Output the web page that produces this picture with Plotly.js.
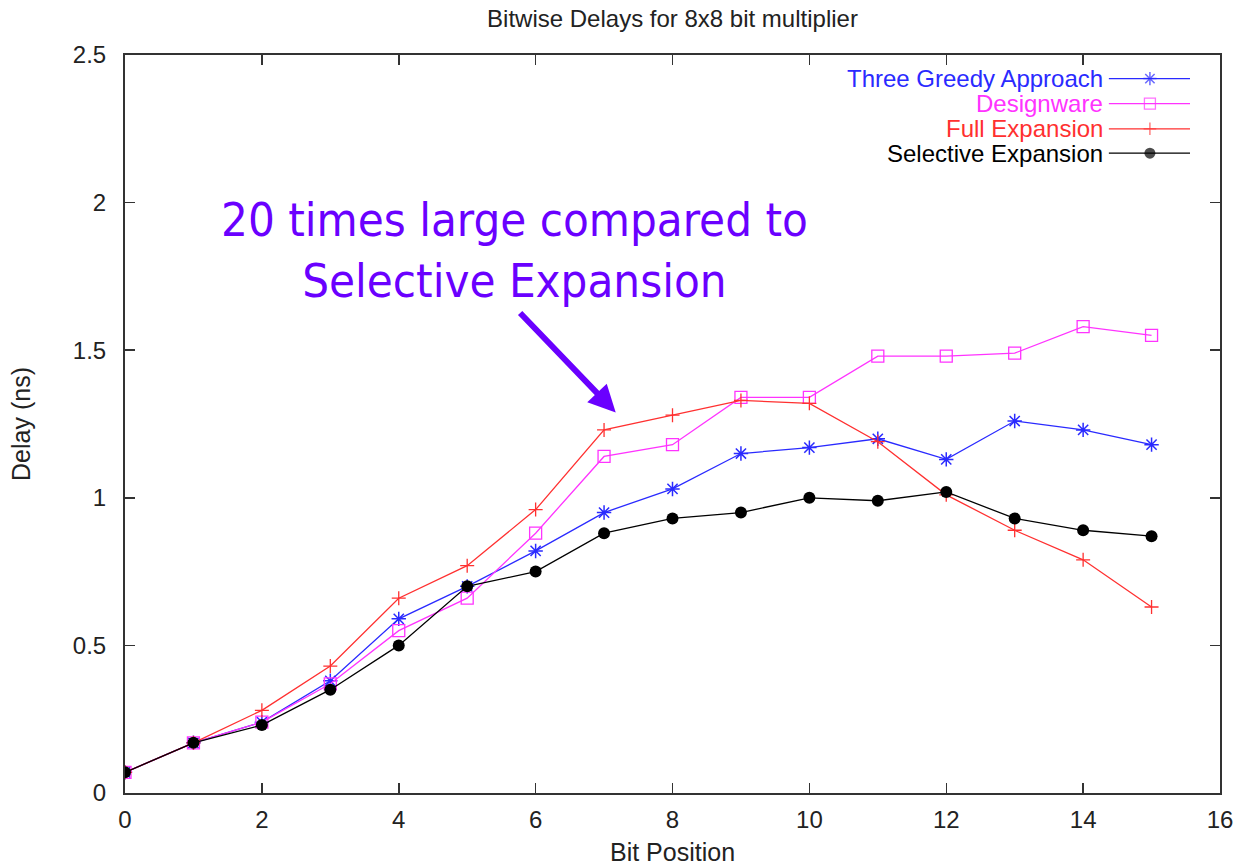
<!DOCTYPE html>
<html><head><meta charset="utf-8">
<script src="https://cdn.plot.ly/plotly-3.0.1.min.js"></script>
<style>html,body{margin:0;padding:0;background:#fff;}#chart{width:1240px;height:867px;}</style>
</head><body><div id="chart"></div>
<script>
const bitPosition = [0,1,2,3,4,5,6,7,8,9,10,11,12,13,14,15];
const threeGreedy = [0.07,0.17,0.24,0.38,0.59,0.70,0.82,0.95,1.03,1.15,1.17,1.20,1.13,1.26,1.23,1.18];
const designware  = [0.07,0.17,0.24,0.37,0.55,0.66,0.88,1.14,1.18,1.34,1.34,1.48,1.48,1.49,1.58,1.55];
const fullExpansion = [0.07,0.17,0.28,0.43,0.66,0.77,0.96,1.23,1.28,1.33,1.32,1.19,1.01,0.89,0.79,0.63];
const selectiveExpansion = [0.07,0.17,0.23,0.35,0.50,0.70,0.75,0.88,0.93,0.95,1.00,0.99,1.02,0.93,0.89,0.87];
const seriesNames = ["Three Greedy Approach","Designware","Full Expansion","Selective Expansion"];
const xTicks = [0,2,4,6,8,10,12,14,16];
const yTicks = [0,0.5,1,1.5,2,2.5];

const styles = [
  {color:"#2a2aff", symbol:"asterisk-open", size:12, mlw:1.5},
  {color:"#ff33ff", symbol:"square-open", size:12, mlw:1.3},
  {color:"#ff3030", symbol:"cross-thin-open", size:10, mlw:1.3},
  {color:"#000000", symbol:"circle", size:12, mlw:0}
];
const seriesData = [threeGreedy, designware, fullExpansion, selectiveExpansion];

const traces = [];
seriesData.forEach((ys,i)=>{
  const s = styles[i];
  traces.push({x:bitPosition, y:ys, type:"scatter", mode:"lines+markers", name:seriesNames[i],
    line:{color:s.color, width:1.3},
    marker:{symbol:s.symbol, size:s.size, color:s.color, line:{color:s.color, width:s.mlw}},
    showlegend:false, hoverinfo:"x+y"});
});

// custom legend (symbol on the right, gnuplot style)
const legRows = [0.968, 0.934, 0.900, 0.867];
const annotations = [];
seriesData.forEach((ys,i)=>{
  const s = styles[i];
  traces.push({x:[0.8985,0.936,0.9726], y:[legRows[i],legRows[i],legRows[i]], xaxis:"x2", yaxis:"y2",
    type:"scatter", mode:"lines+markers", showlegend:false, hoverinfo:"skip",
    line:{color:s.color, width:1.3},
    marker:{symbol:s.symbol, size:[0,s.size-1,0], color:s.color, line:{color:s.color, width:s.mlw}}});
  annotations.push({xref:"paper", yref:"paper", x:0.895, y:legRows[i], xanchor:"right", yanchor:"middle",
    text:seriesNames[i], showarrow:false, font:{family:"Liberation Sans, Arial, sans-serif", size:24, color:s.color}});
});

// callout
annotations.push({xref:"paper", yref:"paper", x:0.356, y:0.736, xanchor:"center", yanchor:"middle",
  text:"20 times large compared to<br>Selective Expansion", showarrow:false, align:"center",
  font:{family:"DejaVu Sans Condensed, DejaVu Sans, sans-serif", size:47, color:"#6a00ff"}});
annotations.push({xref:"x", yref:"y", x:7.17, y:1.289, ax:-97, ay:-101, axref:"pixel", ayref:"pixel",
  text:"", showarrow:true, arrowhead:2, arrowsize:0.9, arrowwidth:6, arrowcolor:"#6a00ff"});

const axisFont = {family:"Liberation Sans, Arial, sans-serif", size:24, color:"#222"};
const titleFont = {family:"Liberation Sans, Arial, sans-serif", size:25, color:"#222"};
const layout = {
  width:1240, height:867,
  margin:{l:125, r:20, t:55, b:74},
  paper_bgcolor:"#fff", plot_bgcolor:"#fff",
  title:{text:"Bitwise Delays for 8x8 bit multiplier", x:0.5, xref:"paper", y:0.979, yref:"container", yanchor:"middle",
    font:{family:"Liberation Sans, Arial, sans-serif", size:24, color:"#222"}},
  xaxis:{range:[0,16], tickvals:xTicks, ticktext:xTicks.map(String), ticks:"inside", ticklen:10, tickwidth:1.5, tickcolor:"#333",
    showline:true, linecolor:"#333", linewidth:2, mirror:"allticks", showgrid:false, zeroline:false,
    tickfont:axisFont, ticklabelstandoff:4,
    title:{text:"Bit Position", font:titleFont, standoff:12}},
  yaxis:{range:[0,2.5], tickvals:yTicks, ticktext:yTicks.map(String), ticks:"inside", ticklen:10, tickwidth:1.5, tickcolor:"#333",
    showline:true, linecolor:"#333", linewidth:2, mirror:"allticks", showgrid:false, zeroline:false,
    tickfont:axisFont, ticklabelstandoff:12,
    title:{text:"Delay (ns)", font:titleFont, standoff:35}},
  xaxis2:{overlaying:"x", range:[0,1], visible:false, fixedrange:true},
  yaxis2:{overlaying:"y", range:[0,1], visible:false, fixedrange:true},
  annotations:annotations,
  showlegend:false
};
Plotly.newPlot("chart", traces, layout, {displayModeBar:false, staticPlot:true});
</script></body></html>
